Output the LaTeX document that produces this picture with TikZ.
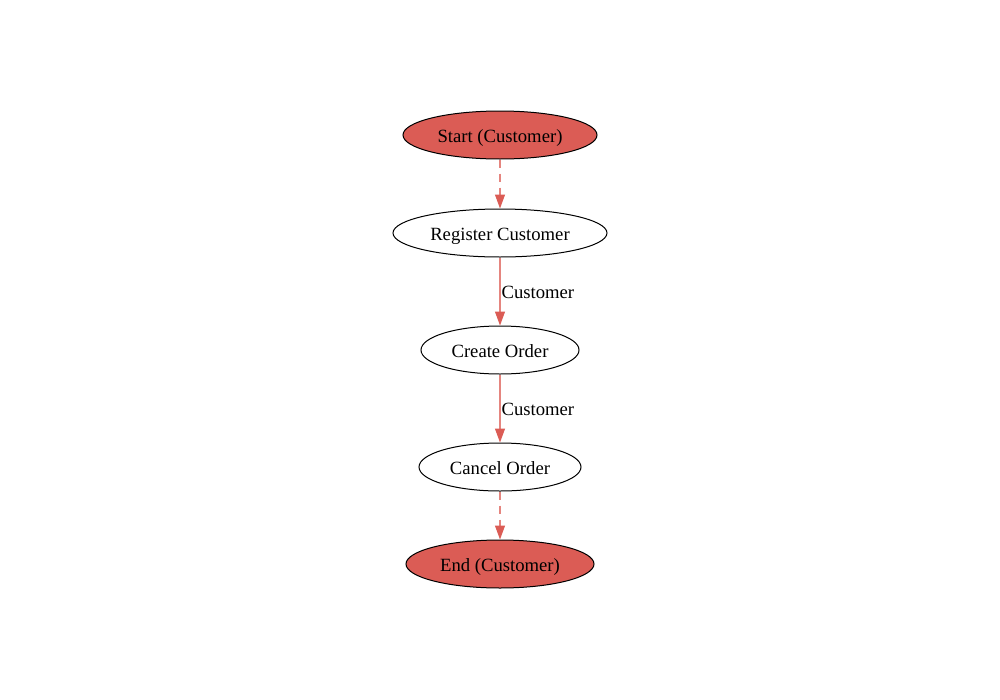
\documentclass[tikz,border=0pt]{standalone}
\usepackage{fontspec}
\setmainfont{Liberation Serif}
\usetikzlibrary{shapes.geometric,arrows.meta}
\definecolor{nodered}{HTML}{DB5C55}
\definecolor{edgered}{HTML}{E5857F}
\begin{document}
\begin{tikzpicture}[x=0.75pt,y=-0.75pt,
  proc/.style={ellipse,draw=black,line width=0.75pt,inner sep=0pt,text height=12pt,text depth=1pt,font=\fontsize{14pt}{16pt}\selectfont},
  term/.style={proc,fill=nodered},
  flow/.style={draw=edgered,line width=0.9pt,-{Triangle[length=10.5pt,width=7.5pt,color=nodered]}},
  dflow/.style={flow,dash pattern=on 6pt off 4.5pt},
  elabel/.style={font=\fontsize{14pt}{16pt}\selectfont,anchor=west,inner sep=0pt}]
\useasboundingbox (0,0) rectangle (1000,700);
\node[term,minimum width=194*0.75pt,minimum height=48*0.75pt] (start) at (500,135) {Start (Customer)};
\node[proc,minimum width=214*0.75pt,minimum height=48*0.75pt] (reg) at (500,233) {Register Customer};
\node[proc,minimum width=158*0.75pt,minimum height=48*0.75pt] (create) at (500,350) {Create Order};
\node[proc,minimum width=162*0.75pt,minimum height=48*0.75pt] (cancel) at (500,467) {Cancel Order};
\node[term,minimum width=188*0.75pt,minimum height=48*0.75pt] (end) at (500,564) {End (Customer)};
\draw[dflow] (start) -- (reg);
\draw[flow] (reg) -- node[elabel,xshift=0.75pt,yshift=-1pt] (l1) {Customer} (create);
\draw[flow] (create) -- node[elabel,xshift=0.75pt,yshift=-1pt] (l2) {Customer} (cancel);
\draw[dflow] (cancel) -- (end);
\end{tikzpicture}
\end{document}
